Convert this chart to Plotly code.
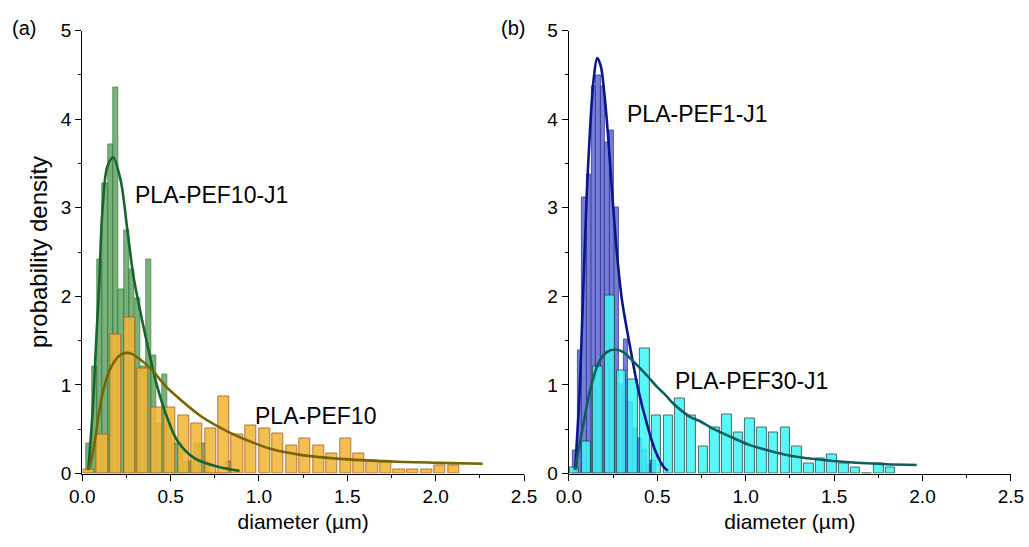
import plotly.graph_objects as go

# ---------------- panel (a) ----------------
# PLA-PEF10-J1 histogram (narrow bins)
j1_centers = [0.038, 0.069, 0.099, 0.130, 0.160, 0.191, 0.221, 0.252, 0.282, 0.313,
              0.343, 0.374, 0.404, 0.435, 0.465, 0.496, 0.526, 0.557, 0.587, 0.618,
              0.648, 0.679, 0.709, 0.740, 0.770, 0.801, 0.831]
j1_density = [0.34, 1.21, 2.41, 3.27, 3.71, 4.36, 2.08, 2.74, 2.30, 1.97,
              1.21, 2.41, 1.33, 0.57, 1.12, 0.57, 0.34, 0.34, 0.13, 0.13,
              0.34, 0.34, 0.13, 0.0, 0.0, 0.0, 0.13]

# PLA-PEF10 histogram (wide bins)
pef10_centers = [0.038, 0.114, 0.191, 0.267, 0.344, 0.420, 0.496, 0.573, 0.649, 0.726,
                 0.802, 0.878, 0.955, 1.031, 1.108, 1.184, 1.260, 1.337, 1.413, 1.490,
                 1.566, 1.642, 1.719, 1.795, 1.872, 1.948, 2.024, 2.101]
pef10_density = [0.05, 0.44, 1.57, 1.76, 1.18, 0.75, 0.75, 0.66, 0.57, 0.51,
                 0.87, 0.44, 0.54, 0.51, 0.45, 0.32, 0.39, 0.32, 0.23, 0.39,
                 0.23, 0.15, 0.12, 0.05, 0.05, 0.05, 0.085, 0.085]

# fitted lognormal curves
j1_fit_x = [0.034, 0.06, 0.08, 0.095, 0.113, 0.141, 0.174, 0.217, 0.255, 0.29,
            0.325, 0.372, 0.419, 0.475, 0.541, 0.636, 0.768, 0.89]
j1_fit_y = [0.04, 0.75, 1.55, 2.1, 2.94, 3.46, 3.57, 3.31, 2.75, 2.22,
            1.86, 1.42, 1.02, 0.66, 0.36, 0.17, 0.075, 0.03]

pef10_fit_x = [0.036, 0.055, 0.09, 0.111, 0.147, 0.168, 0.204, 0.243, 0.28, 0.319,
               0.394, 0.47, 0.525, 0.676, 0.826, 0.977, 1.081, 1.234, 1.458, 1.76,
               2.024, 2.266]
pef10_fit_y = [0.05, 0.18, 0.62, 0.87, 1.13, 1.22, 1.32, 1.36, 1.35, 1.30,
               1.17, 0.99, 0.886, 0.64, 0.47, 0.34, 0.27, 0.21, 0.165, 0.135,
               0.12, 0.11]

# ---------------- panel (b) ----------------
# PLA-PEF1-J1 histogram
pef1_centers = [0.036, 0.062, 0.088, 0.114, 0.140, 0.166, 0.192, 0.218, 0.244, 0.270,
                0.296, 0.322, 0.348, 0.374, 0.400, 0.426, 0.452, 0.478]
pef1_density = [0.265, 1.39, 3.12, 3.37, 4.37, 4.49, 4.37, 3.74, 3.87, 3.0,
                1.0, 1.51, 0.8, 0.51, 0.4, 0.27, 0.1, 0.15]

# PLA-PEF30-J1 histogram
pef30_centers = [0.032, 0.098, 0.164, 0.231, 0.297, 0.363, 0.429, 0.495, 0.562, 0.628,
                 0.694, 0.760, 0.826, 0.893, 0.959, 1.025, 1.091, 1.157, 1.224, 1.290,
                 1.356, 1.422, 1.488, 1.555, 1.621, 1.687, 1.753, 1.819]
pef30_density = [0.065, 0.36, 1.21, 2.01, 1.16, 1.06, 1.41, 0.66, 0.66, 0.85,
                 0.66, 0.31, 0.52, 0.67, 0.46, 0.62, 0.52, 0.46, 0.52, 0.31,
                 0.115, 0.164, 0.217, 0.115, 0.066, 0.0, 0.115, 0.066]

pef1_fit_x = [0.035, 0.06, 0.08, 0.10, 0.12, 0.14, 0.16, 0.18, 0.20, 0.22,
              0.24, 0.27, 0.30, 0.346, 0.393, 0.44, 0.487, 0.534, 0.56]
pef1_fit_y = [0.04, 0.9, 2.0, 3.1, 3.9, 4.45, 4.69, 4.6, 4.3, 3.85,
              3.3, 2.52, 1.96, 1.43, 0.94, 0.57, 0.265, 0.08, 0.03]

pef30_fit_x = [0.035, 0.072, 0.12, 0.166, 0.214, 0.261, 0.308, 0.336, 0.402, 0.449,
               0.497, 0.544, 0.59, 0.685, 0.742, 0.82, 0.93, 1.024, 1.119, 1.213,
               1.307, 1.496, 1.684, 1.797, 1.967]
pef30_fit_y = [0.04, 0.45, 0.94, 1.24, 1.37, 1.40, 1.37, 1.32, 1.19, 1.09,
               0.98, 0.89, 0.79, 0.64, 0.59, 0.50, 0.40, 0.32, 0.265, 0.217,
               0.183, 0.141, 0.115, 0.104, 0.096]

x_tick_vals = [0, 0.5, 1.0, 1.5, 2.0, 2.5]
x_tick_text = ["0.0", "0.5", "1.0", "1.5", "2.0", "2.5"]
y_tick_vals = [0, 1, 2, 3, 4, 5]

FONT = "Liberation Sans, Arial, sans-serif"
W, H = 1029, 547

fig = go.Figure()

def bars(x, y, width, fill, edge, opacity, xa, ya):
    fig.add_trace(go.Bar(x=x, y=y, width=width, xaxis=xa, yaxis=ya,
                         marker=dict(color=fill, opacity=opacity,
                                     line=dict(color=edge, width=1)),
                         hoverinfo="x+y"))

def curve(x, y, color, xa, ya):
    fig.add_trace(go.Scatter(x=x, y=y, mode="lines", xaxis=xa, yaxis=ya,
                             line=dict(color=color, width=2.6, shape="spline",
                                       smoothing=0.9),
                             hoverinfo="skip"))

# panel (a)
bars(j1_centers, j1_density, 0.029, "rgb(88,158,88)", "rgb(52,120,60)", 0.8, "x", "y")
bars(pef10_centers, pef10_density, 0.064, "rgb(242,183,58)", "rgb(170,100,30)", 0.88, "x", "y")
curve(j1_fit_x, j1_fit_y, "rgb(24,100,48)", "x", "y")
curve(pef10_fit_x, pef10_fit_y, "rgb(120,100,0)", "x", "y")

# panel (b)
bars(pef1_centers, pef1_density, 0.025, "rgb(96,104,212)", "rgb(50,56,150)", 0.85, "x2", "y2")
bars(pef30_centers, pef30_density, 0.054, "rgb(60,246,246)", "rgb(40,80,80)", 0.85, "x2", "y2")
curve(pef1_fit_x, pef1_fit_y, "rgb(10,22,140)", "x2", "y2")
curve(pef30_fit_x, pef30_fit_y, "rgb(14,94,94)", "x2", "y2")

x_left = [82.3 / W, 524.0 / W]
x_right = [568.9 / W, 1010.9 / W]
y_dom = [(H - 473.5) / H, (H - 30.5) / H]

def xaxis(domain, anchor):
    return dict(domain=domain, anchor=anchor, range=[0, 2.5], showgrid=False,
                zeroline=False, showline=True, linecolor="black", linewidth=1.3,
                ticks="outside", ticklen=6, tickwidth=1.3, tickcolor="black",
                tickvals=x_tick_vals, ticktext=x_tick_text,
                minor=dict(dtick=0.25, ticks="outside", ticklen=3, tickwidth=1.3,
                           tickcolor="black", showgrid=False),
                tickfont=dict(family=FONT, size=19, color="black"),
                title=dict(text="diameter (µm)", standoff=7,
                           font=dict(family=FONT, size=21, color="black")),
                automargin=False, fixedrange=True)

def yaxis(anchor, title):
    d = dict(domain=y_dom, anchor=anchor, range=[0, 5], showgrid=False,
             zeroline=False, showline=True, linecolor="black", linewidth=1.3,
             ticks="outside", ticklen=6, tickwidth=1.3, tickcolor="black",
             tickvals=y_tick_vals,
             minor=dict(dtick=0.5, ticks="outside", ticklen=3, tickwidth=1.3,
                        tickcolor="black", showgrid=False),
             tickfont=dict(family=FONT, size=19, color="black"),
             automargin=False, fixedrange=True)
    if title:
        d["title"] = dict(text=title, standoff=6,
                          font=dict(family=FONT, size=24, color="black"))
    return d

annotations = [
    dict(text="PLA-PEF10-J1", x=0.287, y=3.14, xref="x", yref="y",
         xanchor="left", yanchor="middle", showarrow=False,
         font=dict(family=FONT, size=23, color="black")),
    dict(text="PLA-PEF10", x=0.966, y=0.65, xref="x", yref="y",
         xanchor="left", yanchor="middle", showarrow=False,
         font=dict(family=FONT, size=23, color="black")),
    dict(text="PLA-PEF1-J1", x=0.317, y=4.06, xref="x2", yref="y2",
         xanchor="left", yanchor="middle", showarrow=False,
         font=dict(family=FONT, size=23, color="black")),
    dict(text="PLA-PEF30-J1", x=0.59, y=1.04, xref="x2", yref="y2",
         xanchor="left", yanchor="middle", showarrow=False,
         font=dict(family=FONT, size=23, color="black")),
    dict(text="(a)", x=10 / W, y=(H - 28) / H, xref="paper", yref="paper",
         xanchor="left", yanchor="middle", showarrow=False,
         font=dict(family=FONT, size=20, color="black")),
    dict(text="(b)", x=499 / W, y=(H - 28) / H, xref="paper", yref="paper",
         xanchor="left", yanchor="middle", showarrow=False,
         font=dict(family=FONT, size=20, color="black")),
]

fig.update_layout(
    width=W, height=H,
    margin=dict(l=0, r=0, t=0, b=0),
    paper_bgcolor="white", plot_bgcolor="white",
    barmode="overlay", bargap=0, showlegend=False,
    xaxis=xaxis(x_left, "y"),
    yaxis=yaxis("x", "probability density"),
    xaxis2=xaxis(x_right, "y2"),
    yaxis2=yaxis("x2", None),
    annotations=annotations,
)

fig.write_html("out.html")
